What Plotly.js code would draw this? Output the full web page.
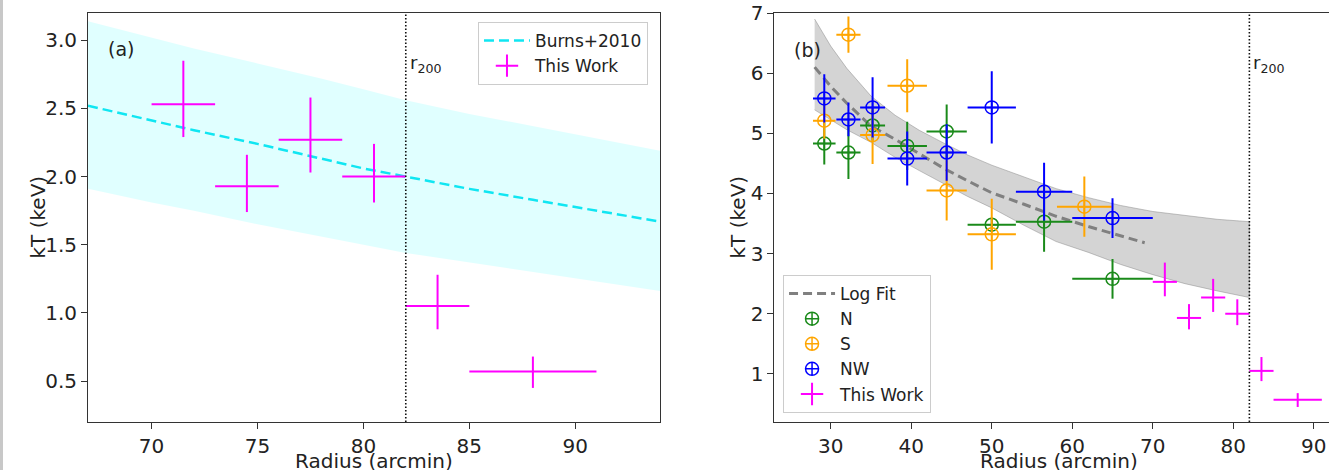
<!DOCTYPE html>
<html>
<head>
<meta charset="utf-8">
<script src="https://cdn.plot.ly/plotly-3.0.1.min.js"></script>
<style>
  html, body { margin: 0; padding: 0; overflow: hidden; background: #ffffff; }
  #chart { width: 1360px; height: 470px; }
</style>
</head>
<body>
<div id="chart"></div>
<script>
// ---------- Data ----------
// Panel (a): Burns+2010 universal profile and its band
const burnsX  = [67, 70, 72, 75, 78, 80, 82, 85, 88, 91, 94];
const burnsT  = [2.52, 2.41, 2.34, 2.24, 2.13, 2.06, 2.00, 1.91, 1.83, 1.75, 1.67];
const burnsHi = [3.14, 3.02, 2.94, 2.83, 2.72, 2.64, 2.56, 2.46, 2.37, 2.28, 2.19];
const burnsLo = [1.91, 1.81, 1.75, 1.65, 1.56, 1.50, 1.44, 1.37, 1.30, 1.23, 1.16];

// "This Work" measurements
const workR      = [71.5, 74.5, 77.5, 80.5, 83.5, 88.0];
const workRerr   = [1.5, 1.5, 1.5, 1.5, 1.5, 3.0];
const workT      = [2.53, 1.93, 2.27, 2.00, 1.05, 0.57];
const workTplus  = [0.32, 0.23, 0.31, 0.24, 0.23, 0.11];
const workTminus = [0.24, 0.19, 0.24, 0.19, 0.17, 0.12];

// Panel (b): Log fit and its band
const logX   = [28, 30, 32, 35, 38, 41, 44, 47, 50, 54, 58, 62, 65, 69];
const logT   = [6.10, 5.78, 5.50, 5.12, 4.90, 4.66, 4.42, 4.21, 4.01, 3.82, 3.62, 3.45, 3.33, 3.18];
const bandX  = [28, 30, 32, 35, 38, 41, 44, 47, 50, 54, 58, 62, 66, 70, 74, 78, 82];
const bandHi = [6.90, 6.45, 6.08, 5.62, 5.30, 5.05, 4.84, 4.64, 4.47, 4.28, 4.08, 3.93, 3.80, 3.70, 3.63, 3.57, 3.53];
const bandLo = [5.39, 5.22, 5.06, 4.85, 4.60, 4.38, 4.16, 3.95, 3.76, 3.47, 3.20, 3.02, 2.82, 2.65, 2.50, 2.38, 2.27];

// N sector
const nR    = [29.2, 32.2, 35.2, 39.5, 44.4, 50.0, 56.5, 65.0];
const nRerr = [1.4, 1.5, 1.55, 2.45, 2.5, 3.0, 3.5, 5.0];
const nT    = [4.83, 4.68, 5.13, 4.79, 5.03, 3.48, 3.53, 2.58];
const nTerr = [0.35, 0.44, 0.25, 0.40, 0.45, 0.12, 0.50, 0.33];

// S sector
const sR    = [29.2, 32.2, 35.2, 39.5, 44.4, 50.0, 61.5];
const sRerr = [1.4, 1.5, 1.55, 2.45, 2.5, 3.0, 3.4];
const sT    = [5.21, 6.64, 4.97, 5.79, 4.05, 3.32, 3.78];
const sTerr = [0.30, 0.30, 0.48, 0.44, 0.50, 0.59, 0.50];

// NW sector
const nwR    = [29.2, 32.2, 35.2, 39.5, 44.4, 50.0, 56.5, 65.0];
const nwRerr = [1.4, 1.5, 1.55, 2.45, 2.5, 3.0, 3.5, 5.0];
const nwT    = [5.58, 5.23, 5.43, 4.58, 4.68, 5.43, 4.03, 3.59];
const nwTerr = [0.40, 0.28, 0.50, 0.45, 0.47, 0.60, 0.48, 0.33];

const r200 = 82;

// ---------- Styling ----------
const FONT = 'DejaVu Sans, Verdana, sans-serif';
const TXT = '#222222';
const CYAN = '#10e6f2';
const MAGENTA = '#ff00ff';
const GREEN = '#1a8a1a';
const ORANGE = '#ffa500';
const BLUE = '#0000ff';

function closedPoly(xs, hi, lo) {
  return {
    x: xs.concat(xs.slice().reverse()),
    y: hi.concat(lo.slice().reverse())
  };
}

const bandA = closedPoly(burnsX, burnsHi, burnsLo);
const bandB = closedPoly(bandX, bandHi, bandLo);

function errTrace(xs, xe, ys, yp, ym, color, name, xa, ya, legend, showlegend, marker) {
  return {
    type: 'scatter', mode: 'markers', x: xs, y: ys, name: name,
    xaxis: xa, yaxis: ya, legend: legend, showlegend: showlegend,
    marker: marker,
    error_x: {type: 'data', array: xe, thickness: 2, width: 0, color: color},
    error_y: {type: 'data', symmetric: false, array: yp, arrayminus: ym, thickness: 2, width: 0, color: color},
    hoverinfo: 'skip'
  };
}

const ringMarker = c => ({symbol: 'circle-cross-open', size: 13, color: c, line: {color: c, width: 1.5}});
const tinyMarker = {size: 1, color: MAGENTA, opacity: 0};

const traces = [
  // Panel (a)
  {type: 'scatter', mode: 'lines', x: bandA.x, y: bandA.y, fill: 'toself',
   fillcolor: 'rgba(0,255,255,0.12)', line: {width: 0}, showlegend: false,
   xaxis: 'x', yaxis: 'y', hoverinfo: 'skip'},
  {type: 'scatter', mode: 'lines', x: burnsX, y: burnsT, name: 'Burns+2010',
   line: {color: CYAN, width: 2.5, dash: '10px,5px'}, xaxis: 'x', yaxis: 'y', legend: 'legend'},
  errTrace(workR, workRerr, workT, workTplus, workTminus, MAGENTA, 'This Work', 'x', 'y', 'legend', false, tinyMarker),
  {type: 'scatter', mode: 'markers', x: [null], y: [null], name: 'This Work', xaxis: 'x', yaxis: 'y',
   legend: 'legend', marker: {symbol: 'cross-thin-open', size: 16, color: MAGENTA, line: {color: MAGENTA, width: 2}}},

  // Panel (b)
  {type: 'scatter', mode: 'lines', x: bandB.x, y: bandB.y, fill: 'toself',
   fillcolor: 'rgba(128,128,128,0.34)', line: {width: 1, color: 'rgba(128,128,128,0.45)'}, showlegend: false,
   xaxis: 'x2', yaxis: 'y2', hoverinfo: 'skip'},
  {type: 'scatter', mode: 'lines', x: logX, y: logT, name: 'Log Fit',
   line: {color: '#808080', width: 3, dash: '9px,5px'}, xaxis: 'x2', yaxis: 'y2', legend: 'legend2'},
  errTrace(nR, nRerr, nT, nTerr, nTerr, GREEN, 'N', 'x2', 'y2', 'legend2', true, ringMarker(GREEN)),
  errTrace(sR, sRerr, sT, sTerr, sTerr, ORANGE, 'S', 'x2', 'y2', 'legend2', true, ringMarker(ORANGE)),
  errTrace(nwR, nwRerr, nwT, nwTerr, nwTerr, BLUE, 'NW', 'x2', 'y2', 'legend2', true, ringMarker(BLUE)),
  errTrace(workR, workRerr, workT, workTplus, workTminus, MAGENTA, 'This Work', 'x2', 'y2', 'legend2', false, tinyMarker),
  {type: 'scatter', mode: 'markers', x: [null], y: [null], name: 'This Work', xaxis: 'x2', yaxis: 'y2',
   legend: 'legend2', marker: {symbol: 'cross-thin-open', size: 16, color: MAGENTA, line: {color: MAGENTA, width: 2}}}
];

const axisCommon = {
  showline: true, linecolor: '#333333', linewidth: 1, mirror: true,
  ticks: 'outside', ticklen: 6, tickwidth: 1, tickcolor: '#333333',
  showgrid: false, zeroline: false,
  tickfont: {family: FONT, size: 20, color: TXT}
};
const titleFont = {family: FONT, size: 20, color: TXT};

const layout = {
  width: 1360, height: 470,
  margin: {l: 88, r: 14, t: 13, b: 48},
  paper_bgcolor: '#ffffff', plot_bgcolor: '#ffffff',
  font: {family: FONT, color: TXT},
  xaxis: Object.assign({}, axisCommon, {
    domain: [0, 0.4547], range: [67, 94], dtick: 5, tick0: 70
  }),
  yaxis: Object.assign({}, axisCommon, {
    domain: [0, 1], range: [0.2, 3.2], dtick: 0.5, tick0: 0.5, tickformat: '.1f'
  }),
  xaxis2: Object.assign({}, axisCommon, {
    domain: [0.5456, 1], range: [23, 94], dtick: 10, tick0: 30, anchor: 'y2'
  }),
  yaxis2: Object.assign({}, axisCommon, {
    domain: [0, 1], range: [0.2, 7], dtick: 1, tick0: 1, anchor: 'x2'
  }),
  legend: {
    x: 0.31, y: 0.978, xanchor: 'left', yanchor: 'top',
    bgcolor: 'rgba(255,255,255,0.85)', bordercolor: '#cccccc', borderwidth: 1,
    font: {family: FONT, size: 17, color: TXT}, itemwidth: 46
  },
  legend2: {
    x: 0.5525, y: 0.022, xanchor: 'left', yanchor: 'bottom',
    bgcolor: 'rgba(255,255,255,0.85)', bordercolor: '#cccccc', borderwidth: 1,
    font: {family: FONT, size: 17, color: TXT}, itemwidth: 46
  },
  shapes: [
    {type: 'line', xref: 'x', yref: 'y domain', x0: r200, x1: r200, y0: 0, y1: 1,
     line: {color: '#111111', width: 1.6, dash: '1.6px,1.9px'}},
    {type: 'line', xref: 'x2', yref: 'y2 domain', x0: r200, x1: r200, y0: 0, y1: 1,
     line: {color: '#111111', width: 1.6, dash: '1.6px,1.9px'}},
    {type: 'rect', xref: 'paper', yref: 'paper', x0: -88/1258, x1: -85/1258, y0: -48/409, y1: 1 + 13/409,
     fillcolor: '#c8c8c8', line: {width: 0}, layer: 'below'}
  ],
  annotations: [
    // axis titles placed as text annotations
    {text: 'kT (keV)', xref: 'paper', yref: 'paper', x: (37 - 88) / 1258, y: 0.5, textangle: -90,
     xanchor: 'center', yanchor: 'middle', showarrow: false, font: titleFont},
    {text: 'kT (keV)', xref: 'paper', yref: 'paper', x: (737 - 88) / 1258, y: 0.5, textangle: -90,
     xanchor: 'center', yanchor: 'middle', showarrow: false, font: titleFont},
    {text: 'Radius (arcmin)', xref: 'x domain', yref: 'paper', x: 0.5, y: -(461 - 422) / 409,
     xanchor: 'center', yanchor: 'middle', showarrow: false, font: titleFont},
    {text: 'Radius (arcmin)', xref: 'x2 domain', yref: 'paper', x: (1059 - 774.3) / 572, y: -(461 - 422) / 409,
     xanchor: 'center', yanchor: 'middle', showarrow: false, font: titleFont},
    {text: '(a)', xref: 'x domain', yref: 'y domain', x: 0.031, y: 0.912, xanchor: 'left', yanchor: 'middle',
     showarrow: false, font: {family: FONT, size: 19, color: TXT}},
    {text: '(b)', xref: 'x2 domain', yref: 'y2 domain', x: 0.030, y: 0.91, xanchor: 'left', yanchor: 'middle',
     showarrow: false, font: {family: FONT, size: 19, color: TXT}},
    {text: 'r<sub>200</sub>', xref: 'x', yref: 'y domain', x: r200, y: 0.875, xanchor: 'left', yanchor: 'middle',
     xshift: 2, showarrow: false, font: {family: FONT, size: 18, color: TXT}},
    {text: 'r<sub>200</sub>', xref: 'x2', yref: 'y2 domain', x: r200, y: 0.875, xanchor: 'left', yanchor: 'middle',
     xshift: 2, showarrow: false, font: {family: FONT, size: 18, color: TXT}}
  ]
};

Plotly.newPlot('chart', traces, layout, {staticPlot: true, displayModeBar: false});
</script>
</body>
</html>
